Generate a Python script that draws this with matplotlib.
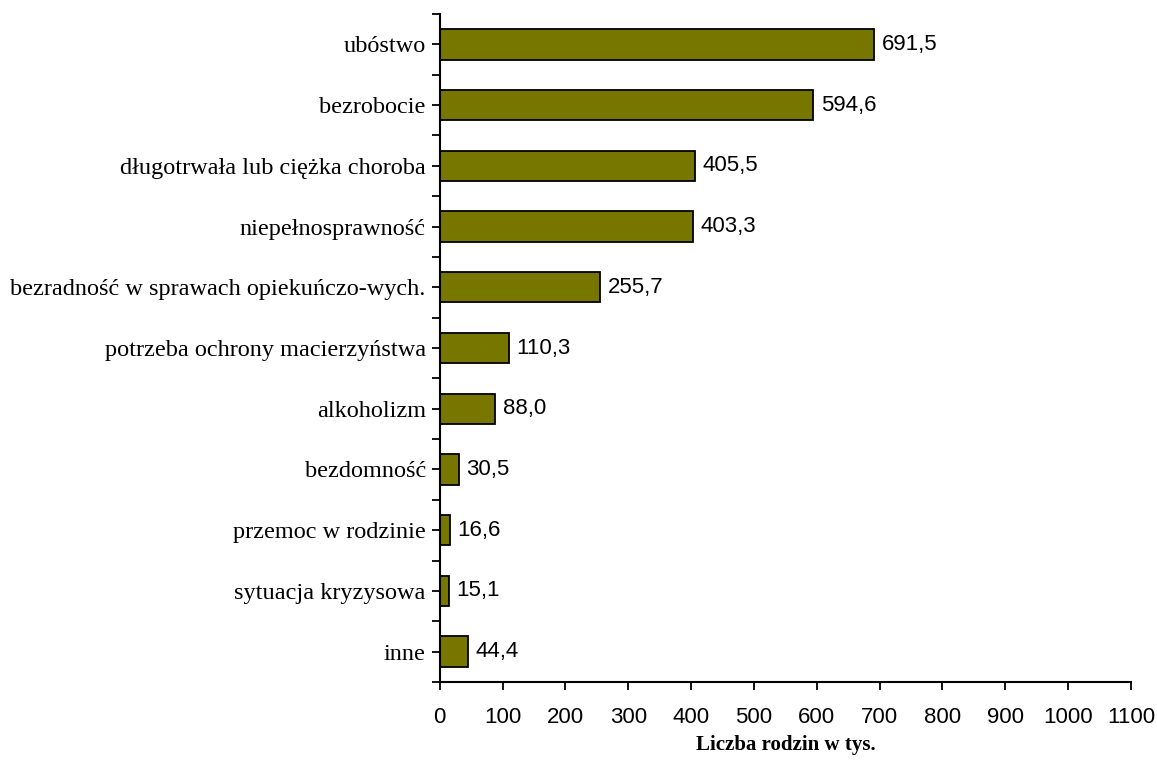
import numpy as np
import matplotlib
matplotlib.use('Agg')
import matplotlib.pyplot as plt
from matplotlib.ticker import FixedLocator

# data (top to bottom as in the chart)
categories = ['ubóstwo', 'bezrobocie', 'długotrwała lub ciężka choroba',
              'niepełnosprawność', 'bezradność w sprawach opiekuńczo-wych.',
              'potrzeba ochrony macierzyństwa', 'alkoholizm', 'bezdomność',
              'przemoc w rodzinie', 'sytuacja kryzysowa', 'inne']
values = [691.5, 594.6, 405.5, 403.3, 255.7, 110.3, 88.0, 30.5, 16.6, 15.1, 44.4]
xticks = list(range(0, 1101, 100))

fig = plt.figure(figsize=(11.57, 7.6), dpi=100)
ax = fig.add_axes([0.380, 0.1026, 0.5975, 0.879])

n = len(categories)
y = np.arange(n)[::-1]
ax.barh(y, values, height=0.5, color='#777700', edgecolor='black', linewidth=1.3)

for yi, v in zip(y, values):
    ax.text(v + 12, yi, f'{v:.1f}'.replace('.', ','), va='center', ha='left',
            fontsize=16, family='Liberation Sans')

ax.set_ylim(-0.5, n - 0.5)
ax.set_xlim(0, 1100)

# category labels at centres, tick marks at centres and boundaries
ax.set_yticks(y)
ax.set_yticklabels(categories, family='Liberation Serif', fontsize=17.5)
ax.yaxis.set_minor_locator(FixedLocator(np.arange(n + 1) - 0.5))
ax.tick_params(axis='y', which='both', direction='out', length=6, width=1.3, pad=4)

ax.set_xticks(xticks)
ax.set_xticklabels([str(t) for t in xticks], family='Liberation Sans', fontsize=16)
ax.tick_params(axis='x', direction='out', length=6, width=1.3, pad=12)

ax.set_xlabel('Liczba rodzin w tys.', family='Liberation Serif', fontweight='bold',
              fontsize=15, labelpad=5)

for s in ['top', 'right']:
    ax.spines[s].set_visible(False)
for s in ['left', 'bottom']:
    ax.spines[s].set_linewidth(1.5)

fig.savefig('out.png', dpi=100)
